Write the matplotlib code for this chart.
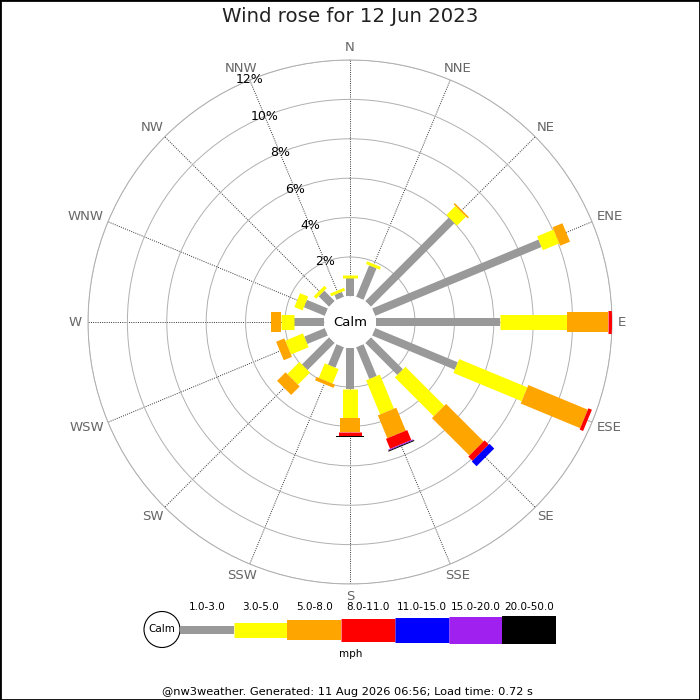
import numpy as np
import matplotlib
matplotlib.use("Agg")
import matplotlib.pyplot as plt
from matplotlib.patches import Circle, Rectangle

# Wind rose for 12 Jun 2023 (percent of time per direction and speed class)

directions = ["N", "NNE", "NE", "ENE", "E", "ESE", "SE", "SSE",
              "S", "SSW", "SW", "WSW", "W", "WNW", "NW", "NNW"]
speed_classes = ["1.0-3.0", "3.0-5.0", "5.0-8.0", "8.0-11.0",
                 "11.0-15.0", "15.0-20.0", "20.0-50.0"]

pct_1_3 = [0.92, 1.73, 6.00, 9.14, 6.31, 4.54, 2.30, 1.75,
           2.12, 1.13, 1.95, 1.13, 1.53, 1.15, 0.75, 0.27]
pct_3_5 = [0.17, 0.15, 0.65, 0.90, 3.42, 3.75, 2.79, 1.87,
           1.47, 0.80, 0.87, 0.97, 0.69, 0.45, 0.17, 0.15]
pct_5_8 = [0.00, 0.00, 0.08, 0.54, 2.08, 3.27, 2.69, 1.26,
           0.69, 0.18, 0.61, 0.45, 0.51, 0.00, 0.00, 0.00]
pct_8_11 = [0.00, 0.00, 0.00, 0.00, 0.20, 0.19, 0.30, 0.55,
            0.19, 0.00, 0.00, 0.00, 0.00, 0.00, 0.00, 0.00]
pct_11_15 = [0.00, 0.00, 0.00, 0.00, 0.00, 0.00, 0.34, 0.00,
             0.00, 0.00, 0.00, 0.00, 0.00, 0.00, 0.00, 0.00]
pct_15_20 = [0.00, 0.00, 0.00, 0.00, 0.00, 0.00, 0.00, 0.05,
             0.00, 0.00, 0.00, 0.00, 0.00, 0.00, 0.00, 0.00]
pct_20_50 = [0.00, 0.00, 0.00, 0.00, 0.00, 0.00, 0.00, 0.05,
             0.08, 0.00, 0.00, 0.00, 0.00, 0.00, 0.00, 0.00]

ring_ticks = [2, 4, 6, 8, 10, 12]

colors = ["#999999", "#ffff00", "#ffa500", "#ff0000", "#0000ff", "#a020f0", "#000000"]
bar_px = [8, 15, 20, 23, 25, 27, 28]   # bar thickness for each class, pixels

DPI = 100
px = 72.0 / DPI   # points per pixel

fig = plt.figure(figsize=(7, 7), dpi=DPI)
fig.add_artist(Rectangle((0, 0), 1, 1, transform=fig.transFigure,
                         fill=False, edgecolor="black", linewidth=2))

# polar axes: centre (350, 322), outer radius 262 px
ax = fig.add_axes([88 / 700, 116 / 700, 524 / 700, 524 / 700], projection="polar")
ax.set_theta_zero_location("N")
ax.set_theta_direction(-1)
ax.set_ylim(0, 12)
ax.set_rorigin(-1.3)

angles = np.deg2rad(np.arange(16) * 22.5)
ax.set_xticks(angles)
ax.set_xticklabels([])
ax.set_yticks(ring_ticks)
ax.set_yticklabels([])
ax.tick_params(length=0)
ax.xaxis.grid(True, color="#333333", linestyle=(0, (1, 1.3)), linewidth=0.7)
ax.yaxis.grid(True, color="#b0b0b0", linestyle="-", linewidth=0.7)
ax.spines["polar"].set_color("#b0b0b0")
ax.spines["polar"].set_linewidth(0.7)
ax.spines["inner"].set_color("none")

# stacked bars
series = [pct_1_3, pct_3_5, pct_5_8, pct_8_11, pct_11_15, pct_15_20, pct_20_50]
for i, th in enumerate(angles):
    start = 0.0
    for j, vals in enumerate(series):
        v = vals[i]
        if v <= 0:
            continue
        ax.plot([th, th], [start, start + v], color=colors[j],
                linewidth=bar_px[j] * px, solid_capstyle="butt", zorder=3 + j)
        start += v

# ring labels along NNW
for r in ring_ticks:
    ax.text(np.deg2rad(337.5), r, f"{r}%", ha="center", va="center",
            fontsize=9, color="black", zorder=10)

# direction labels
labels = []
for th, name in zip(angles, directions):
    a = ax.annotate(name, xy=(th, 12.3), xytext=(0, 0), textcoords="offset pixels",
                    ha="center", va="center", fontsize=9.5, color="#666666",
                    annotation_clip=False)
    labels.append((a, th))

ax.text(0.5, 0.5, "Calm", transform=ax.transAxes, ha="center", va="center",
        fontsize=9.5, color="black", zorder=12)

fig.text(0.5, 1 - 17 / 700, "Wind rose for 12 Jun 2023", ha="center", va="center",
         fontsize=14.2, color="#222222")

# legend, drawn in pixel coordinates
lg = fig.add_axes([0, 0, 1, 1], zorder=-1)
lg.set_xlim(0, 700)
lg.set_ylim(700, 0)
lg.axis("off")
cy = 629.5
lg.add_patch(Circle((162, cy), 18, facecolor="white", edgecolor="black", linewidth=0.8))
lg.text(162, cy, "Calm", ha="center", va="center", fontsize=7.5)
seg = 53.7
for j, name in enumerate(speed_classes):
    x0 = 180 + j * seg
    lg.plot([x0, x0 + seg], [cy, cy], color=colors[j], linewidth=bar_px[j] * px,
            solid_capstyle="butt")
    lg.text(x0 + seg / 2, 607, name, ha="center", va="center", fontsize=7.5)
lg.text(351, 654, "mph", ha="center", va="center", fontsize=7.5)

fig.text(0.497, 1 - 692 / 700,
         "@nw3weather. Generated: 11 Aug 2026 06:56; Load time: 0.72 s",
         ha="center", va="center", fontsize=8.2, color="black")

# push direction labels outward depending on their size
fig.canvas.draw()
renderer = fig.canvas.get_renderer()
for a, th in labels:
    bb = a.get_window_extent(renderer)
    a.xyann = (bb.width / 2 * np.sin(th), bb.height / 2 * np.cos(th))

fig.savefig("out.png", dpi=DPI)
